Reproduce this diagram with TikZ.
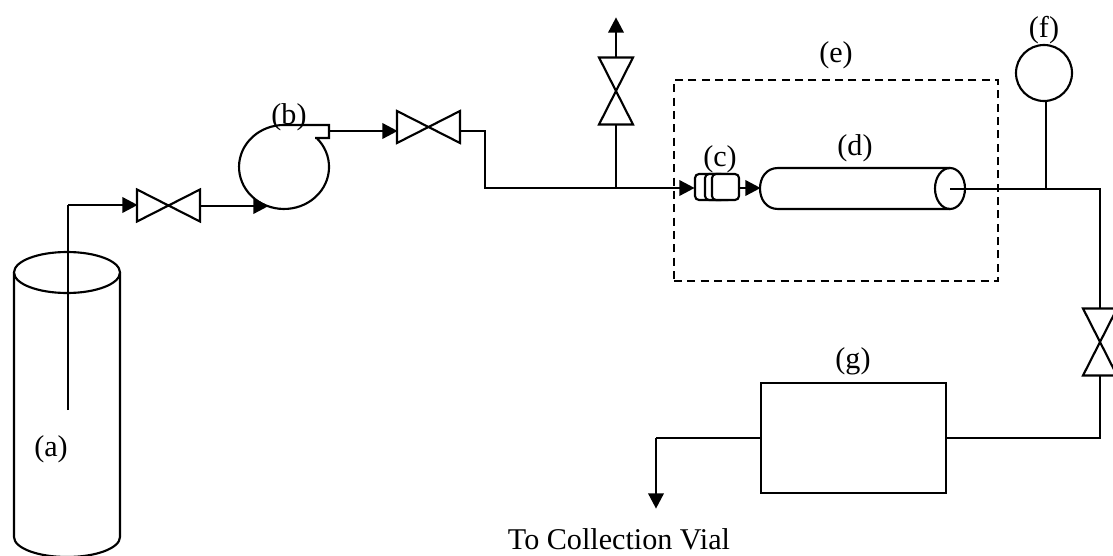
\documentclass[tikz,border=0pt]{standalone}
\usepackage{fontspec}
\setmainfont{Liberation Serif}
\usetikzlibrary{arrows.meta}
\tikzset{
  pipe/.style={line width=1.6pt,line join=miter},
  flow/.style={line width=2pt,-{Triangle[length=11.5pt,width=11.5pt]},shorten >=-0.5pt},
  thick pipe/.style={line width=2pt,line join=miter},
  part/.style={line width=1.6pt,line join=miter},
  tag/.style={inner sep=0pt,font=\fontsize{22.6}{26}\selectfont},
}
\newcommand{\valveH}[2]{\draw[part] (#1-31.5,#2-16) -- (#1+31.5,#2+16) -- (#1+31.5,#2-16) -- (#1-31.5,#2+16) -- cycle;}
\newcommand{\valveV}[2]{\draw[part] (#1-17,#2-33.5) -- (#1+17,#2-33.5) -- (#1-17,#2+33.5) -- (#1+17,#2+33.5) -- cycle;}
\begin{document}
\begin{tikzpicture}[x=0.75pt,y=-0.75pt]
\useasboundingbox (0,0) rectangle (1113,556);
\clip (0,0) rectangle (1113,556);
% free ends and junctions
\coordinate (tube) at (68,410);
\coordinate (tubetop) at (68,205);
\coordinate (v1in) at (137,205);
\coordinate (v1out) at (200,206);
\coordinate (pumpin) at (268,206);
\coordinate (pumpout) at (329,131);
\coordinate (v2in) at (397,131);
\coordinate (v2out) at (460,131);
\coordinate (bend1) at (485,131);
\coordinate (bend2) at (485,188);
\coordinate (tee1) at (616,188);
\coordinate (v3low) at (616,124);
\coordinate (v3up) at (616,58);
\coordinate (vent) at (616,18);
\coordinate (filterin) at (694,188);
\coordinate (filterout) at (739,188);
\coordinate (colin) at (760,188);
\coordinate (colout) at (950,189);
\coordinate (tee2) at (1046,189);
\coordinate (gauge) at (1046,101);
\coordinate (corner1) at (1100,189);
\coordinate (v4up) at (1100,308);
\coordinate (v4low) at (1100,376);
\coordinate (corner2) at (1100,438);
\coordinate (boxright) at (946,438);
\coordinate (boxleft) at (761,438);
\coordinate (corner3) at (656,438);
\coordinate (drain) at (656,508);
% dashed enclosure
\node[draw,line width=1.4pt,dash pattern=on 6pt off 4pt,minimum width=243pt,minimum height=150.75pt,inner sep=0pt] (oven) at (836,180.5) {};
% vessel (a)
\draw[part] (14,272.5) -- (14,537) arc[start angle=180,end angle=0,x radius=53,y radius=20] -- (120,272.5);
\draw[part] (67,272.5) ellipse[x radius=53,y radius=20.5];
% pump (b)
\draw[part] (316.4,137.8) arc[start angle=-44,end angle=270,x radius=45,y radius=42] -- (329,125) -- (329,138) -- (315,138);
% valves
\valveH{168.5}{205.5}
\valveH{428.5}{127}
\valveV{616}{91}
\valveV{1100}{342}
% filter (c)
\draw[part,rounded corners=3pt] (695,174) rectangle (725,200);
\draw[part,rounded corners=3pt,fill=white] (705,174) rectangle (732,200);
\draw[part,rounded corners=3pt,fill=white] (712,174) rectangle (739,200);
% column (d)
\draw[part] (950,168) -- (778,168) .. controls (766,168) and (760,178) .. (760,188.5) .. controls (760,199) and (766,209) .. (778,209) -- (950,209);
\draw[part] (950,188.5) ellipse[x radius=15,y radius=20.5];
% gauge (f)
\node[draw,circle,line width=1.6pt,minimum size=42pt,inner sep=0pt] (f) at (1044,73) {};
% box (g)
\node[draw,line width=1.6pt,minimum width=138.75pt,minimum height=82.5pt,inner sep=0pt] (g) at (853.5,438) {};
% connectors
\draw[pipe] (tube) -- (tubetop);
\draw[flow] (tubetop) -- (v1in);
\draw[flow] (v1out) -- (pumpin);
\draw[flow] (pumpout) -- (v2in);
\draw[thick pipe] (v2out) -- (bend1) -- (bend2) -- (tee1);
\draw[flow] (tee1) -- (filterin);
\draw[pipe] (tee1) -- (v3low);
\draw[flow] (v3up) -- (vent);
\draw[flow] (filterout) -- (colin);
\draw[pipe] (colout) -- (tee2) -- (corner1) -- (v4up);
\draw[pipe] (tee2) -- (gauge);
\draw[pipe] (v4low) -- (corner2) -- (boxright);
\draw[pipe] (boxleft) -- (corner3);
\draw[flow] (corner3) -- (drain);
% labels
\node[tag] (la) at (51,449) {(a)};
\node[tag] (lb) at (289,117) {(b)};
\node[tag] (lc) at (720,159) {(c)};
\node[tag] (ld) at (855,148) {(d)};
\node[tag] (le) at (836,55) {(e)};
\node[tag] (lf) at (1044,30) {(f)};
\node[tag] (lg) at (853,361) {(g)};
\node[tag] (lv) at (619,539.5) {To Collection Vial};
\end{tikzpicture}
\end{document}
